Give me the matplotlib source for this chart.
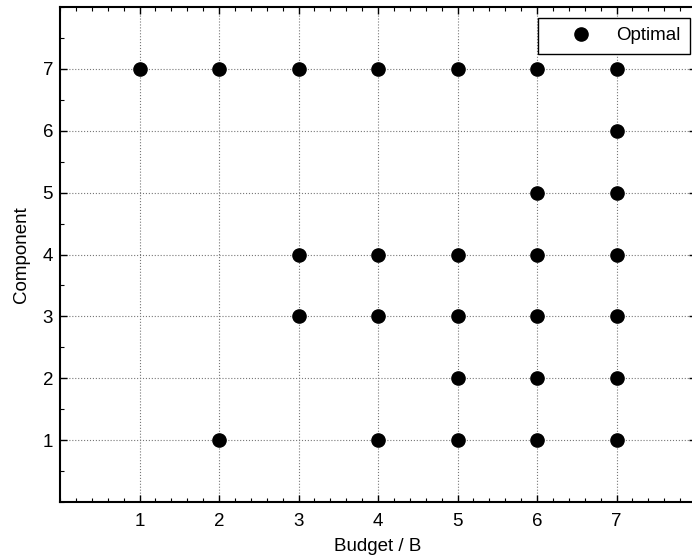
import matplotlib
matplotlib.use("Agg")
import matplotlib.pyplot as plt
from matplotlib.ticker import MultipleLocator

plt.rcParams['font.family'] = ['Liberation Sans', 'DejaVu Sans']

budget = [1, 2, 2, 3, 3, 3, 4, 4, 4, 4, 5, 5, 5, 5, 5,
          6, 6, 6, 6, 6, 6, 7, 7, 7, 7, 7, 7, 7]
component = [7, 7, 1, 7, 4, 3, 7, 4, 3, 1, 7, 4, 3, 2, 1,
             7, 5, 4, 3, 2, 1, 7, 6, 5, 4, 3, 2, 1]
xticks = [1, 2, 3, 4, 5, 6, 7]
yticks = [1, 2, 3, 4, 5, 6, 7]

FS = 13.5
fig = plt.figure(figsize=(6.92, 5.55), dpi=100)
ax = fig.add_axes([60/692, 1 - 502/555, 636/692, 495/555])
ax.plot(budget, component, 'o', color='black', markersize=9.5, label='Optimal', zorder=3)
ax.set_xlim(0, 8)
ax.set_ylim(0, 8)
ax.set_xticks(xticks)
ax.set_yticks(yticks)
ax.xaxis.set_minor_locator(MultipleLocator(0.2))
ax.yaxis.set_minor_locator(MultipleLocator(0.5))
ax.tick_params(which='both', direction='in', top=True, right=True, labelsize=FS, color='black')
ax.tick_params(which='major', length=5, width=1)
ax.tick_params(which='minor', length=3, width=0.8)
ax.tick_params(axis='x', which='major', pad=8)
ax.tick_params(axis='y', which='major', pad=5)
ax.grid(True, which='major', color='#777777', linestyle=':', linewidth=0.8)
for s in ax.spines.values():
    s.set_linewidth(1.5)
ax.set_xlabel('Budget / B', fontsize=FS, labelpad=6)
ax.set_ylabel('Component', fontsize=FS, labelpad=9)
leg = ax.legend(loc='upper right', bbox_to_anchor=((690 - 60) / 636, 1 - 11/495), bbox_transform=ax.transAxes,
                fancybox=False, edgecolor='black', framealpha=1, fontsize=FS, borderaxespad=0,
                handletextpad=0.1, borderpad=0.5, handlelength=3.6, markerscale=1.0)
leg.get_frame().set_linewidth(1.0)
fig.savefig('out.png', dpi=100)
